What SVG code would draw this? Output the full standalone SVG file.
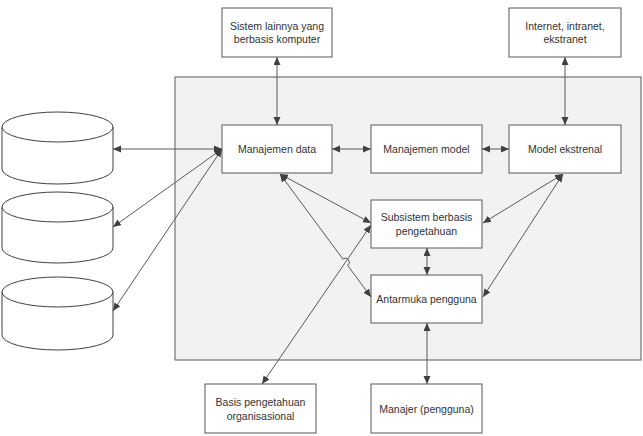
<svg xmlns="http://www.w3.org/2000/svg" width="643" height="436" viewBox="0 0 643 436">
<style>
.box{fill:#ffffff;stroke:#595959;stroke-width:1}
.cyl{fill:#ffffff;stroke:#404040;stroke-width:1}
.lbl{font-family:"Liberation Sans",Arial,sans-serif;font-size:10.5px;fill:#333333;text-anchor:middle}
.con{fill:none;stroke:#595959;stroke-width:1;marker-start:url(#ah);marker-end:url(#ah)}
</style>
<defs>
<marker id="ah" markerUnits="userSpaceOnUse" markerWidth="10" markerHeight="8" refX="8" refY="3.5" orient="auto-start-reverse">
<path d="M0,0 L8,3.5 L0,7 Z" fill="#404040"/>
</marker>
</defs>
<rect id="container" x="175" y="77" width="466" height="283" fill="#f2f2f2" stroke="#595959" stroke-width="1"/>
<g id="cyl1">
<path class="cyl" d="M2,127 L2,169 A55.5,15 0 0 0 113,169 L113,127"/>
<ellipse class="cyl" cx="57.5" cy="127" rx="55.5" ry="15"/>
</g>
<g id="cyl2">
<path class="cyl" d="M2,207 L2,248 A55.5,15 0 0 0 113,248 L113,207"/>
<ellipse class="cyl" cx="57.5" cy="207" rx="55.5" ry="15"/>
</g>
<g id="cyl3">
<path class="cyl" d="M2,292 L2,335 A55.5,15 0 0 0 113,335 L113,292"/>
<ellipse class="cyl" cx="57.5" cy="292" rx="55.5" ry="15"/>
</g>
<g id="sistem">
<rect class="box" x="222" y="8" width="110" height="49"/>
<text class="lbl" x="277" y="30">Sistem lainnya yang</text>
<text class="lbl" x="277" y="43">berbasis komputer</text>
</g>
<g id="internet">
<rect class="box" x="509" y="8" width="112" height="49"/>
<text class="lbl" x="565" y="30">Internet, intranet,</text>
<text class="lbl" x="565" y="43">ekstranet</text>
</g>
<g id="manajemen-data">
<rect class="box" x="222" y="125" width="110" height="48"/>
<text class="lbl" x="277" y="153">Manajemen data</text>
</g>
<g id="manajemen-model">
<rect class="box" x="371" y="125" width="111" height="48"/>
<text class="lbl" x="426.5" y="153">Manajemen model</text>
</g>
<g id="model-ekstrenal">
<rect class="box" x="509" y="125" width="112" height="48"/>
<text class="lbl" x="565" y="153">Model ekstrenal</text>
</g>
<g id="subsistem">
<rect class="box" x="371" y="200" width="111" height="48"/>
<text class="lbl" x="426.5" y="221">Subsistem berbasis</text>
<text class="lbl" x="426.5" y="235">pengetahuan</text>
</g>
<g id="antarmuka">
<rect class="box" x="371" y="275" width="111" height="48"/>
<text class="lbl" x="426.5" y="303">Antarmuka pengguna</text>
</g>
<g id="manajer">
<rect class="box" x="371" y="384" width="111" height="49"/>
<text class="lbl" x="426.5" y="413">Manajer (pengguna)</text>
</g>
<g id="basis">
<rect class="box" x="205" y="384" width="111" height="49"/>
<text class="lbl" x="260.5" y="406">Basis pengetahuan</text>
<text class="lbl" x="260.5" y="420">organisasional</text>
</g>
<g id="connectors">
<path class="con" d="M277,57 L277,125"/>
<path class="con" d="M565,57 L565,125"/>
<path class="con" d="M113,149 L222,149"/>
<path class="con" d="M222,149 L113,227"/>
<path class="con" d="M222,149 L113,311"/>
<path class="con" d="M332,149 L371,149"/>
<path class="con" d="M482,149 L509,149"/>
<path class="con" d="M280,174 L371,223"/>
<path class="con" d="M280,174 L342.9,259.1 A4,4 0 0 1 347.7,265.5 L371,297"/>
<path class="con" d="M262,384 L371,225"/>
<path class="con" d="M427,248 L427,275"/>
<path class="con" d="M427,323 L427,384"/>
<path class="con" d="M483,223 L563,174"/>
<path class="con" d="M483,297 L563,174"/>
</g>
</svg>
